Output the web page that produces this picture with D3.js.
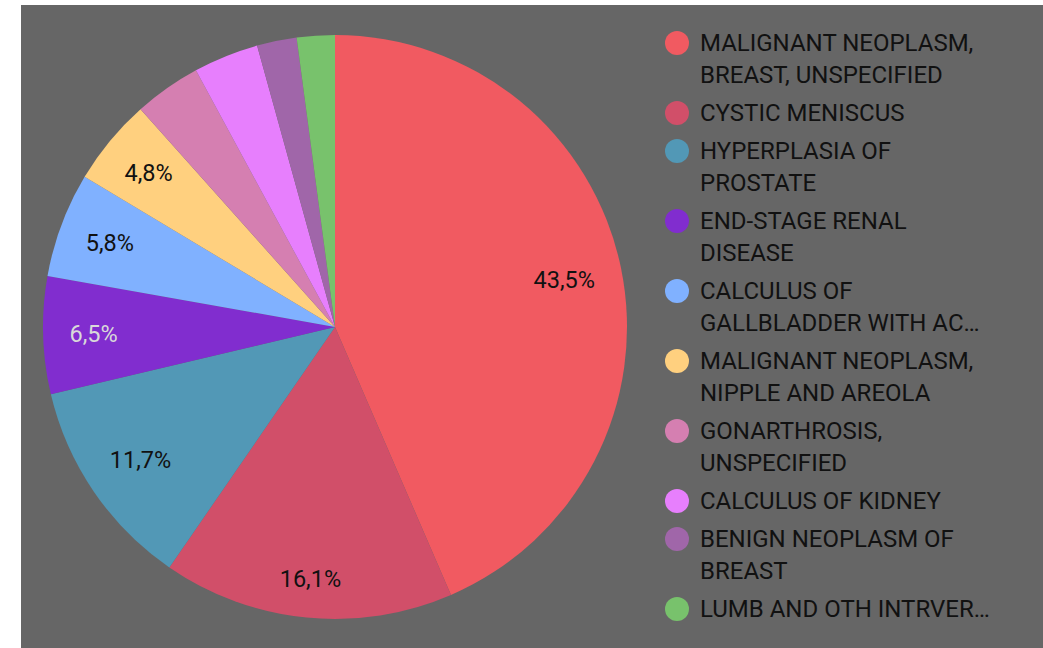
<!DOCTYPE html>
<html>
<head>
<meta charset="utf-8">
<script src="https://cdn.jsdelivr.net/npm/d3@7"></script>
<style>
  body { margin: 0; background: #fff; }
  svg { display: block; font-family: Roboto, sans-serif; }
</style>
</head>
<body>
<div id="chart"></div>
<script>
// Diagnoses (legend text, already wrapped / truncated as shown)
var labels = [
    ["MALIGNANT NEOPLASM,", "BREAST, UNSPECIFIED"],
    ["CYSTIC MENISCUS"],
    ["HYPERPLASIA OF", "PROSTATE"],
    ["END-STAGE RENAL", "DISEASE"],
    ["CALCULUS OF", "GALLBLADDER WITH AC\u2026"],
    ["MALIGNANT NEOPLASM,", "NIPPLE AND AREOLA"],
    ["GONARTHROSIS,", "UNSPECIFIED"],
    ["CALCULUS OF KIDNEY"],
    ["BENIGN NEOPLASM OF", "BREAST"],
    ["LUMB AND OTH INTRVER\u2026"]
];

// Share of each diagnosis, in percent
var shares = [43.5, 16.1, 11.7, 6.5, 5.8, 4.8, 3.7, 3.6, 2.2, 2.1];

var colors = ["#f15a61", "#d14f69", "#5298b6", "#812dcf", "#80b1ff",
              "#ffd07f", "#d57fb1", "#e77ffd", "#a066a9", "#78c26c"];

// slices smaller than this get no percentage label
var minLabel = 4.5;

var width = 1043, height = 648;

var svg = d3.select("#chart")
    .append("svg")
    .attr("width", width)
    .attr("height", height);

// grey panel
svg.append("rect")
    .attr("x", 21)
    .attr("y", 5)
    .attr("width", width - 21)
    .attr("height", height - 5)
    .attr("fill", "#666666");

var cx = 335, cy = 327, radius = 292;
var labelPad = 26; // gap between the label box and the rim

var data = shares.map(function(v, i) { return {i: i, value: v}; });

var pie = d3.pie()
    .sort(null)
    .value(function(d) { return d.value; });

var arc = d3.arc()
    .innerRadius(0)
    .outerRadius(radius);

var g = svg.append("g")
    .attr("transform", "translate(" + cx + "," + cy + ")");

var arcs = pie(data);

g.selectAll("path")
    .data(arcs)
    .enter()
    .append("path")
    .attr("d", arc)
    .attr("fill", function(d) { return colors[d.data.i]; });

var txt = g.selectAll("text")
    .data(arcs.filter(function(d) { return d.data.value >= minLabel; }))
    .enter()
    .append("text")
    .attr("text-anchor", "middle")
    .attr("dy", "0.35em")
    .style("font-size", "23.5px")
    .attr("fill", function(d) {
        // light text on the dark purple slice
        var c = d3.hsl(colors[d.data.i]);
        return c.l < 0.5 ? "#d9d9d9" : "#111";
    })
    .text(function(d) { return d3.format(".1f")(d.data.value).replace(".", ",") + "%"; });

// push each label outwards until its box sits labelPad inside the rim
txt.each(function(d) {
    var w = this.getBBox().width / 2, h = 8.5;
    var a = (d.startAngle + d.endAngle) / 2;
    var s = Math.sin(a), c = -Math.cos(a);
    var lo = 0, hi = radius;
    for (var k = 0; k < 40; k++) {
        var m = (lo + hi) / 2;
        var dist = Math.hypot(Math.abs(m * s) + w, Math.abs(m * c) + h);
        if (dist > radius - labelPad) hi = m; else lo = m;
    }
    d3.select(this).attr("transform", "translate(" + (lo * s) + "," + (lo * c) + ")");
});

// legend
var legend = svg.append("g");
var lineH = 32, gap = 6;
var y = 43;
labels.forEach(function(lines, i) {
    legend.append("circle")
        .attr("cx", 677)
        .attr("cy", y)
        .attr("r", 12)
        .attr("fill", colors[i]);
    lines.forEach(function(t, j) {
        legend.append("text")
            .attr("x", 700)
            .attr("y", y + j * lineH)
            .attr("dy", "0.35em")
            .attr("fill", "#111")
            .style("font-size", "24px")
            .text(t);
    });
    y += lines.length * lineH + gap;
});
</script>
</body>
</html>
